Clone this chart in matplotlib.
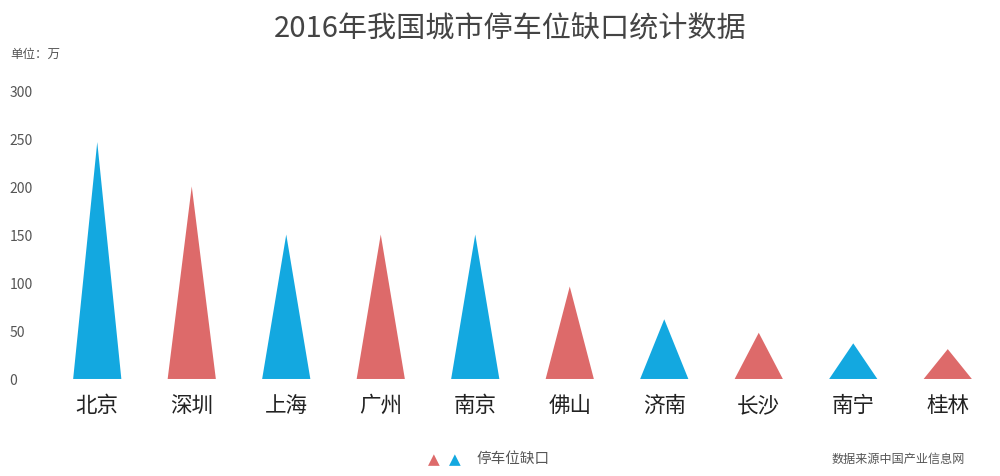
import matplotlib
matplotlib.use("Agg")
import matplotlib.pyplot as plt
from matplotlib.patches import Polygon

plt.rcParams['font.family'] = ['Noto Sans CJK SC', 'DejaVu Sans']

cities = ["北京", "深圳", "上海", "广州", "南京", "佛山", "济南", "长沙", "南宁", "桂林"]
gaps = [246, 200, 150, 150, 150, 96, 62, 48, 37, 31]
yticks = [0, 50, 100, 150, 200, 250, 300]

BLUE = "#13a8e0"
RED = "#dd6a6a"
colors = [BLUE if i % 2 == 0 else RED for i in range(len(cities))]
TEXT = "#555555"

fig = plt.figure(figsize=(10, 4.77), dpi=100)
ax = fig.add_axes([0.05, 0.2034, 0.945, 0.6057])

half = 0.255
for i, (v, c) in enumerate(zip(gaps, colors)):
    tri = Polygon([(i - half, 0), (i, v), (i + half, 0)], closed=True,
                  facecolor=c, edgecolor="none")
    ax.add_patch(tri)

ax.set_xlim(-0.5, len(cities) - 0.5)
ax.set_ylim(0, 300)
ax.set_xticks(range(len(cities)))
ax.set_xticklabels(cities, fontsize=15.5, color="#222222")
ax.set_yticks(yticks)
ax.set_yticklabels([str(t) for t in yticks], fontsize=10, color=TEXT, ha="left")
ax.tick_params(axis="y", length=0, pad=29)
ax.tick_params(axis="x", length=0, pad=11)
for s in ax.spines.values():
    s.set_visible(False)

fig.text(0.51, 0.94, "2016年我国城市停车位缺口统计数据", ha="center", va="center",
         fontsize=21, color="#444444")
fig.text(0.01, 0.885, "单位：万", ha="left", va="center", fontsize=9, color=TEXT)

# legend
fig.text(0.434, 0.037, "▲", ha="center", va="center", fontsize=11, color=RED,
         family="DejaVu Sans")
fig.text(0.455, 0.037, "▲", ha="center", va="center", fontsize=11, color=BLUE,
         family="DejaVu Sans")
fig.text(0.476, 0.037, "停车位缺口", ha="left", va="center", fontsize=10.5, color=TEXT)

fig.text(0.965, 0.037, "数据来源中国产业信息网", ha="right", va="center",
         fontsize=8.7, color=TEXT)

fig.savefig("out.png", dpi=100, facecolor="white")
